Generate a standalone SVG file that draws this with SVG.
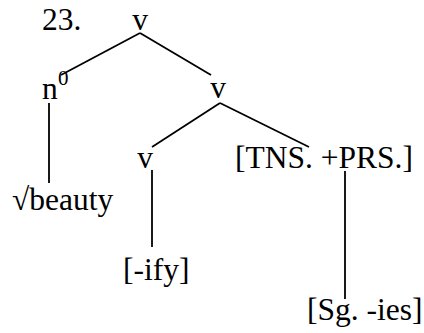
<svg xmlns="http://www.w3.org/2000/svg" width="424" height="333" viewBox="0 0 424 333">
  <style>
    text { font-family: "Liberation Serif", "Times New Roman", serif; font-size: 31.5px; fill: #000; }
    .sup { font-size: 21px; }
    .edge { stroke: #000; stroke-width: 1.8; fill: none; }
  </style>
  <rect width="424" height="333" fill="#fff"/>
  <g id="label"><text x="42" y="30">23.</text></g>
  <g id="connectors">
    <line class="edge" x1="140" y1="33" x2="61" y2="75"/>
    <line class="edge" x1="140" y1="33" x2="211" y2="75"/>
    <line class="edge" x1="49" y1="103" x2="49" y2="183"/>
    <line class="edge" x1="220" y1="103" x2="152" y2="147"/>
    <line class="edge" x1="220" y1="103" x2="309" y2="147"/>
    <line class="edge" x1="152" y1="170" x2="152" y2="247"/>
    <line class="edge" x1="345" y1="171" x2="345" y2="299"/>
  </g>
  <g id="v-root"><text x="140" y="30" text-anchor="middle">v</text></g>
  <g id="n0"><text x="42" y="99">n</text><text class="sup" x="58" y="85">0</text></g>
  <g id="v-mid"><text x="218" y="98" text-anchor="middle">v</text></g>
  <g id="v-low"><text x="145" y="168" text-anchor="middle">v</text></g>
  <g id="root-beauty"><text x="12" y="210">√beauty</text></g>
  <g id="tns"><text x="235" y="168">[TNS. +PRS.]</text></g>
  <g id="ify"><text x="123" y="280">[-ify]</text></g>
  <g id="sg-ies"><text x="307" y="320">[Sg. -ies]</text></g>
</svg>
